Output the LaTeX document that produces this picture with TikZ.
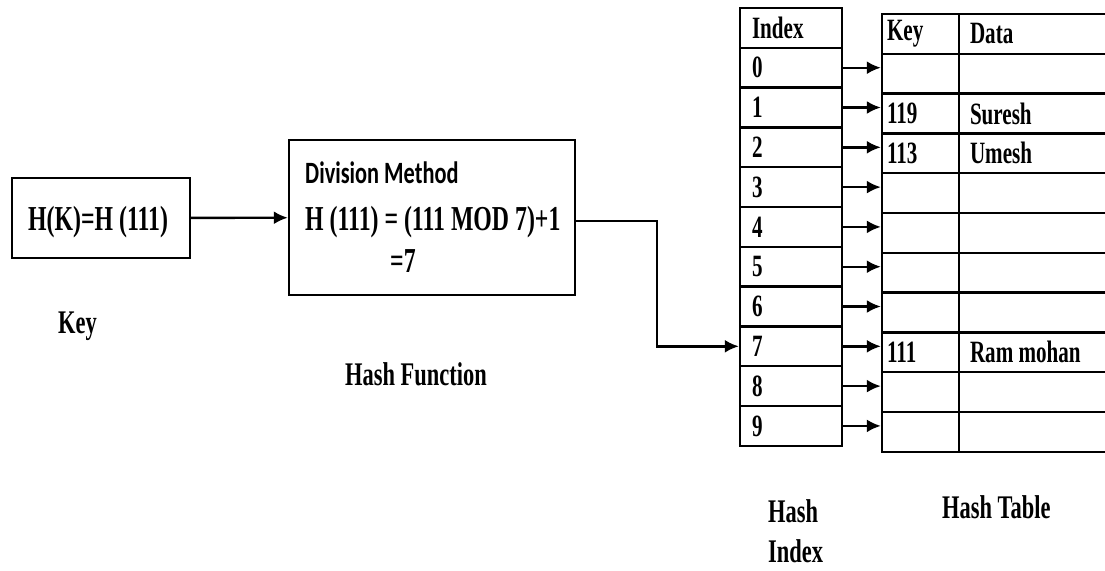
\documentclass[tikz,border=0pt]{standalone}
\usepackage{fontspec}
\setmainfont{Liberation Serif}[FakeStretch=0.68]
\newfontfamily\calibrifont{Carlito}[FakeStretch=0.72]
\usetikzlibrary{arrows.meta}

\newcommand{\tablefont}{\fontsize{31}{32}\selectfont\bfseries}
\newcommand{\labelfont}{\fontsize{33}{40}\selectfont\bfseries}
\newcommand{\boxfont}{\fontsize{35}{36}\selectfont\bfseries}

\tikzset{
  box/.style={draw, line width=2.4pt, inner sep=0pt},
  txt/.style={anchor=base west, inner sep=0pt, font=\labelfont},
  cell/.style={draw, line width=2.4pt, minimum height=39.8, inner ysep=0pt, align=flush left, font=\tablefont},
  icell/.style={cell, minimum width=102, text width=78, inner xsep=12},
  kcell/.style={cell, minimum width=77, text width=67, inner xsep=5},
  dcell/.style={cell, minimum width=161, text width=139, inner xsep=11},
  arr/.style={line width=2.4pt, -{Latex[length=14pt,width=13pt]}},
}

\begin{document}
\begin{tikzpicture}[x=1pt,y=1pt,yscale=-1]
\useasboundingbox (0,0) rectangle (1105,570);

%Key box
\node[box, minimum width=178, minimum height=80] (keybox) at (101,218) {};
\node[txt, font=\boxfont] (keytxt) at (28,230) {H(K)=H (111)};
\node[txt] (keylbl) at (58,333) {Key};

%Hash function box
\node[box, minimum width=286, minimum height=155] (hashbox) at (432,217.5) {};
\node[txt, font=\calibrifont\fontsize{31}{33}\selectfont\bfseries] (divm) at (305,183) {Division Method};
\node[txt, font=\boxfont] (hfun) at (305,230) {H (111) = (111 MOD 7)+1};
\node[txt, font=\boxfont] (hres) at (390,272) {=7};
\node[txt] (hflbl) at (345,385) {Hash Function};

\draw[arr] (keybox) -- (hashbox);

%Hash index
\node[icell] (ih) at (791,27.9) {Index};
\foreach \k in {0,...,9}
  \node[icell] (i\k) at (791,{8+39.8*(\k+1.5)}) {\k};
\node[txt] (hilbl) at (768,522) {Hash};
\node[txt] (hilbl2) at (768,562) {Index};

%Hash table
\node[kcell] (kh) at (920.5,33.9) {Key};
\node[dcell] (dh) at (1039.5,33.9) {Data};
\foreach \k/\kv/\dv in {0//,1/119/Suresh,2/113/Umesh,3//,4//,5//,6//,7/111/Ram mohan,8//,9//}{
  \node[kcell] (k\k) at (920.5,{14+39.8*(\k+1.5)}) {\kv};
  \node[dcell] (d\k) at (1039.5,{14+39.8*(\k+1.5)}) {\dv};
  \draw[arr] (i\k.east) -- (i\k.east -| k\k.west);
}
\node[txt] (htlbl) at (942,518) {Hash Table};

\coordinate (bend) at (657,221);
\draw[arr] (hashbox.east |- bend) -- (bend) |- (i7.west);

\end{tikzpicture}
\end{document}
